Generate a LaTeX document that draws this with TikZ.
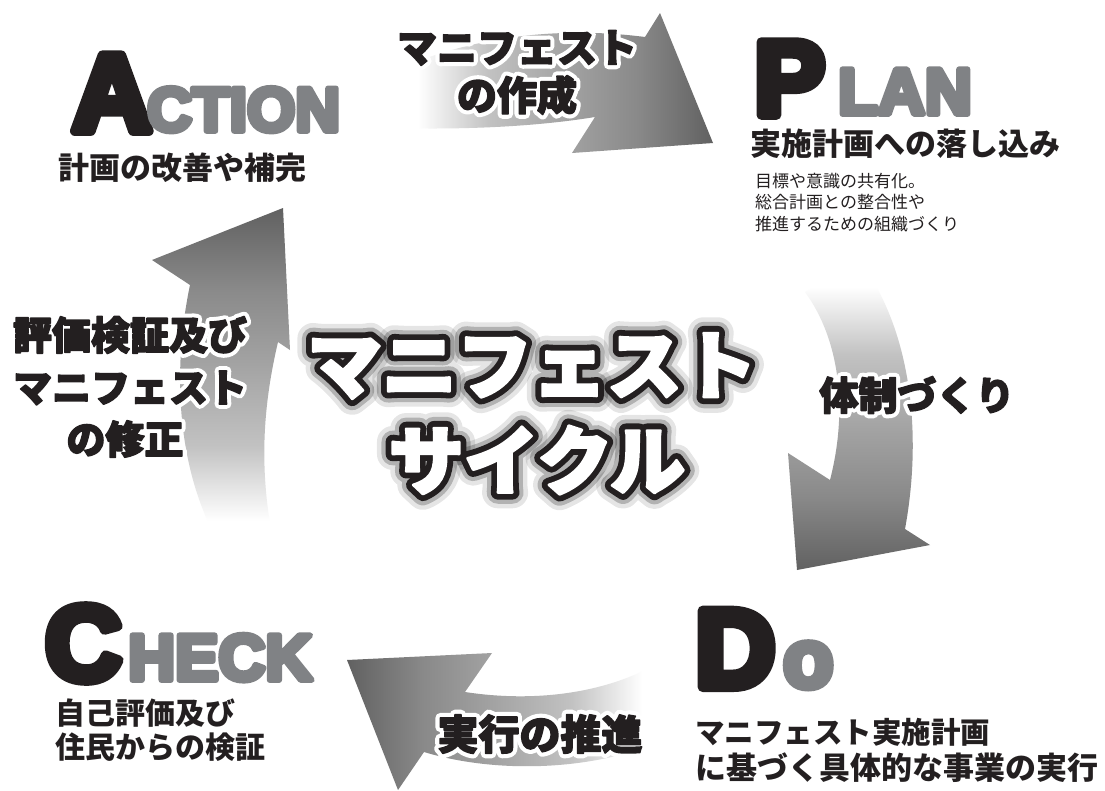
\documentclass[tikz,border=0pt]{standalone}
\usepackage{fontspec}
\setmainfont{Liberation Sans}
\newfontfamily\jp{Noto Sans CJK JP}
\newfontfamily\jpH{Noto Sans CJK JP}[FakeBold=3.5]
\newfontfamily\jpHalo{Noto Sans CJK JP}[FakeBold=24]
\newfontfamily\jpOut{Noto Sans CJK JP}[FakeBold=19]
\newfontfamily\jpGlowA{Noto Sans CJK JP}[FakeBold=30]
\newfontfamily\jpGlowB{Noto Sans CJK JP}[FakeBold=42]
\newfontfamily\blk{Liberation Sans}[FakeBold=9]
\definecolor{ink}{HTML}{231F20}
\definecolor{lgray}{HTML}{808285}
\pgfdeclarehorizontalshading{fadearrow}{100bp}{color(0bp)=(white); color(25bp)=(white); color(29bp)=(white); color(40bp)=(black!24); color(52bp)=(black!36); color(63bp)=(black!46); color(75bp)=(black!62); color(100bp)=(black!62)}
\tikzset{
  band/.style={shading=fadearrow, shading angle=#1},
  bigl/.style={font=\blk\bfseries\fontsize{#1}{#1}\selectfont, text=ink, inner sep=0, anchor=base west},
  capl/.style={font=\blk\bfseries\fontsize{#1}{#1}\selectfont, text=lgray, inner sep=0, anchor=base west},
  sub/.style={font=\jp\bfseries\fontsize{#1}{#1}\selectfont, text=ink, inner sep=0, anchor=west},
  note/.style={font=\jp\fontsize{#1}{#1}\selectfont, text=ink, inner sep=0, anchor=west},
  lbl/.style={font=\jpH\bfseries\fontsize{#1}{#1}\selectfont, text=ink, inner sep=0},
  lblhalo/.style={font=\jpHalo\bfseries\fontsize{#1}{#1}\selectfont, text=white, inner sep=0},
  ttlcore/.style={font=\jpH\bfseries\fontsize{75}{75}\selectfont, text=white, inner sep=0},
  ttlout/.style={font=\jpOut\bfseries\fontsize{75}{75}\selectfont, text=ink, inner sep=0},
  ttlglowa/.style={font=\jpGlowA\bfseries\fontsize{75}{75}\selectfont, text=black, text opacity=0.22, inner sep=0},
  ttlglowb/.style={font=\jpGlowB\bfseries\fontsize{75}{75}\selectfont, text=black, text opacity=0.10, inner sep=0},
}
\begin{document}
\begin{tikzpicture}[x=1pt, y=-1pt, line join=round]
\useasboundingbox (0,0) rectangle (1105,790);
\fill[white] (0,0) rectangle (1105,790);

% arrows
\shade[band=0] (645,37) -- (660,13) -- (713,143) -- (572,153) -- (595,117)
  .. controls (540,126) and (470,130) .. (395,128) -- (392,72)
  .. controls (470,36) and (560,26) .. (645,37) -- cycle;
\shade[band=-90] (830,480) -- (788,453) -- (797,570) -- (930,545) -- (905,529)
  .. controls (925,420) and (905,320) .. (860,262) -- (805,292)
  .. controls (840,340) and (848,410) .. (830,480) -- cycle;
\shade[band=180] (465,692) -- (492,653) -- (347,660) -- (398,790) -- (424,752)
  .. controls (500,775) and (600,770) .. (668,738) -- (655,665)
  .. controls (600,695) and (530,702) .. (465,692) -- cycle;
\shade[band=90] (190,285) -- (152,260) -- (283,208) -- (290,350) -- (278,342)
  .. controls (262,410) and (260,470) .. (272,535) -- (222,548)
  .. controls (180,480) and (170,380) .. (190,285) -- cycle;

% central title (glow, outline and white face drawn as layers)
\node[ttlglowb] (tg1b) at (532,366) {マニフェスト};
\node[ttlglowb] (tg2b) at (537,460) {サイクル};
\node[ttlglowa] (tg1a) at (532,366) {マニフェスト};
\node[ttlglowa] (tg2a) at (537,460) {サイクル};
\node[ttlout] (to1) at (532,366) {マニフェスト};
\node[ttlout] (to2) at (537,460) {サイクル};
\node[ttlcore] (t1) at (532,366) {マニフェスト};
\node[ttlcore] (t2) at (537,460) {サイクル};

% arrow labels
\node[lblhalo=40] (l1h) at (517,48) {マニフェスト};
\node[lblhalo=40] (l2h) at (517,95) {の作成};
\node[lblhalo=39] (l3h) at (917,395) {体制づくり};
\node[lblhalo=41] (l4h) at (540,734) {実行の推進};
\node[lblhalo=39] (l5h) at (130,335) {評価検証及び};
\node[lblhalo=39] (l6h) at (130,388) {マニフェスト};
\node[lblhalo=39] (l7h) at (125,439) {の修正};
\node[lbl=40] (l1) at (517,48) {マニフェスト};
\node[lbl=40] (l2) at (517,95) {の作成};
\node[lbl=39] (l3) at (917,395) {体制づくり};
\node[lbl=41] (l4) at (540,734) {実行の推進};
\node[lbl=39] (l5) at (130,335) {評価検証及び};
\node[lbl=39] (l6) at (130,388) {マニフェスト};
\node[lbl=39] (l7) at (125,439) {の修正};

% ACTION
\node[bigl=110] (aA) at (72,131) {A};
\node[capl=62] (aR) at (147,131) {CTION};
\node[sub=31] (aS) at (58,168) {計画の改善や補完};

% PLAN
\node[bigl=106] (pP) at (754,115) {P};
\node[capl=65] (pR) at (838,114) {LAN};
\node[sub=31] (pS) at (750,144) {実施計画への落し込み};
\node[note=17] (pN1) at (755,181) {目標や意識の共有化。};
\node[note=17] (pN2) at (755,202) {総合計画との整合性や};
\node[note=17] (pN3) at (755,224) {推進するための組織づくり};

% CHECK
\node[bigl=106] (cC) at (45,680) {C};
\node[capl=65] (cR) at (128,680) {HECK};
\node[sub=30] (cS1) at (55,713) {自己評価及び};
\node[sub=30] (cS2) at (55,747) {住民からの検証};

% DO
\node[bigl=111] (dD) at (695,687) {D};
\node[capl=82] (dR) at (783,687) {o};
\node[sub=29.5] (dS1) at (695,732) {マニフェスト実施計画};
\node[sub=31] (dS2) at (695,768) {に基づく具体的な事業の実行};
\end{tikzpicture}
\end{document}
